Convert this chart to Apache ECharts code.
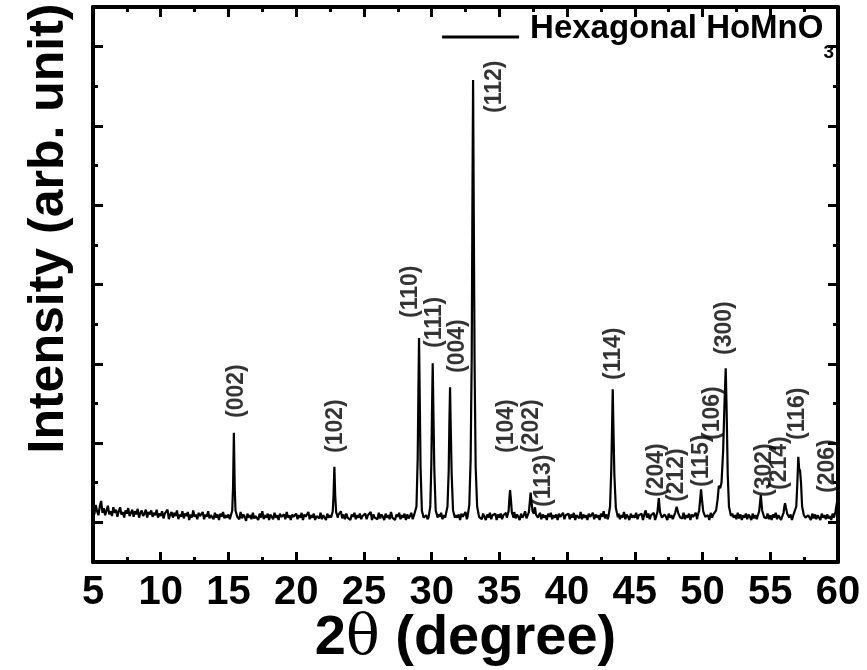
<!DOCTYPE html>
<html>
<head>
<meta charset="utf-8">
<title>HoMnO3 XRD</title>
<script src="https://cdn.jsdelivr.net/npm/echarts@6/dist/echarts.min.js"></script>
<style>
  html, body { margin: 0; padding: 0; background: #fff; }
  #chart { width: 867px; height: 670px; }
</style>
</head>
<body>
<div id="chart"></div>
<script>
// background counts, one value every 0.1 degree
var bgStep = 0.1;
var bg05 = [660, 600, 720, 640, 590, 700, 770, 620, 680, 590,
            650, 710, 600, 640, 580, 690, 620, 660, 570, 640,
            690, 600, 630, 560, 650, 610, 680, 580, 620, 660,
            570, 640, 600, 670, 560, 620, 650, 580, 610, 660,
            560, 630, 600, 650, 570, 620, 590, 660, 560, 610];
var bg10 = [580, 640, 550, 610, 590, 660, 540, 600, 630, 560,
            620, 580, 650, 540, 600, 570, 640, 550, 610, 580,
            630, 530, 600, 560, 650, 570, 600, 540, 620, 580,
            560, 630, 540, 600, 570, 640, 550, 590, 610, 540,
            620, 560, 600, 530, 610, 570, 630, 550, 590, 560];
var bg15 = [600, 540, 610, 570, 530, 620, 560, 590, 540, 630,
            550, 600, 570, 520, 610, 560, 590, 540, 620, 550,
            580, 600, 530, 610, 560, 640, 540, 590, 560, 610,
            530, 600, 570, 540, 620, 560, 590, 530, 610, 570,
            550, 600, 540, 630, 560, 590, 530, 600, 570, 550];
var bg20 = [610, 540, 590, 560, 620, 530, 600, 570, 550, 630,
            540, 590, 560, 610, 530, 580, 600, 550, 620, 540,
            590, 570, 530, 610, 560, 590, 540, 620, 560, 600,
            530, 590, 570, 640, 550, 600, 540, 610, 560, 580,
            530, 600, 570, 620, 540, 590, 560, 610, 540, 580];
var bg25 = [560, 610, 540, 590, 570, 630, 530, 600, 560, 580,
            540, 620, 550, 600, 570, 530, 610, 560, 590, 540,
            630, 560, 580, 530, 600, 570, 620, 540, 590, 560,
            610, 530, 600, 550, 580, 620, 540, 590, 560, 610,
            540, 600, 570, 530, 620, 560, 590, 540, 610, 560];
var bg30 = [590, 540, 610, 560, 530, 600, 570, 620, 540, 590,
            560, 610, 530, 600, 570, 550, 620, 540, 590, 560,
            600, 530, 610, 570, 550, 630, 540, 590, 560, 610,
            540, 580, 600, 530, 620, 560, 590, 540, 610, 570,
            530, 600, 560, 620, 540, 590, 570, 610, 530, 600];
var bg35 = [560, 610, 540, 590, 570, 620, 530, 600, 560, 580,
            540, 630, 550, 600, 570, 530, 610, 560, 590, 640,
            550, 600, 540, 620, 560, 590, 530, 610, 570, 550,
            620, 540, 600, 560, 590, 530, 610, 570, 620, 540,
            590, 560, 600, 530, 610, 570, 550, 620, 540, 590];
var bg40 = [570, 610, 540, 600, 560, 620, 530, 590, 570, 550,
            630, 540, 600, 560, 590, 530, 610, 570, 550, 620,
            540, 600, 560, 590, 530, 610, 570, 640, 550, 600,
            540, 590, 560, 620, 530, 600, 570, 550, 610, 540,
            590, 560, 630, 540, 600, 570, 530, 610, 560, 590];
var bg45 = [560, 620, 540, 590, 570, 610, 530, 600, 650, 560,
            610, 540, 590, 570, 620, 530, 600, 560, 580, 540,
            630, 550, 600, 570, 530, 610, 560, 590, 540, 620,
            560, 600, 530, 610, 570, 550, 620, 540, 590, 560,
            610, 530, 600, 570, 550, 620, 540, 590, 560, 610];
var bg50 = [580, 540, 610, 560, 590, 530, 620, 560, 600, 540,
            590, 570, 530, 610, 560, 600, 540, 620, 550, 590,
            570, 530, 610, 560, 590, 540, 620, 550, 600, 530,
            590, 560, 610, 540, 600, 570, 530, 610, 550, 590,
            540, 620, 560, 590, 530, 600, 570, 550, 610, 540];
var bg55 = [590, 530, 600, 560, 620, 540, 590, 560, 530, 610,
            550, 590, 540, 620, 560, 600, 530, 590, 570, 540,
            610, 550, 590, 530, 600, 560, 620, 540, 590, 560,
            530, 610, 550, 600, 540, 590, 570, 530, 610, 560,
            590, 540, 600, 550, 580, 530, 610, 560, 590, 540,
            580];

// reflections: [2theta, counts]
var peak002 = [[15.15, 560], [15.28, 650], [15.34, 950], [15.40, 1630], [15.46, 950], [15.52, 650], [15.65, 570]];
var peak102 = [[22.58, 560], [22.70, 640], [22.76, 850], [22.82, 1200], [22.88, 840], [22.95, 630], [23.08, 560]];
var peak110 = [[28.75, 570], [28.88, 700], [28.97, 1300], [29.02, 2100], [29.07, 2825], [29.12, 2100], [29.18, 1200], [29.28, 650], [29.40, 560]];
var peak111 = [[29.78, 570], [29.90, 700], [29.98, 1250], [30.03, 1950], [30.08, 2506], [30.13, 1900], [30.20, 1150], [30.30, 650], [30.45, 560]];
var peak004 = [[31.05, 570], [31.17, 700], [31.26, 1150], [31.31, 1750], [31.36, 2203], [31.41, 1700], [31.48, 1100], [31.58, 650], [31.72, 560]];
var peak112 = [[32.65, 570], [32.78, 720], [32.88, 1300], [32.96, 2600], [33.01, 4500], [33.06, 6078], [33.11, 4400], [33.17, 2500], [33.25, 1200], [33.36, 700], [33.50, 570]];
var peak104 = [[35.55, 560], [35.68, 640], [35.74, 800], [35.79, 908], [35.85, 790], [35.92, 630], [36.05, 560]];
var peak202 = [[37.05, 560], [37.18, 630], [37.26, 780], [37.31, 874], [37.37, 760], [37.45, 640], [37.55, 610], [37.63, 690], [37.70, 600], [37.85, 560]];
var peak114 = [[43.05, 570], [43.17, 700], [43.26, 1150], [43.32, 1700], [43.37, 2178], [43.42, 1700], [43.49, 1100], [43.60, 680], [43.75, 565]];
var peak204 = [[46.55, 560], [46.67, 630], [46.77, 807], [46.86, 630], [47.00, 560]];
var peak212 = [[47.85, 560], [47.98, 620], [48.09, 698], [48.20, 620], [48.35, 560]];
var peak115 = [[49.62, 570], [49.75, 650], [49.84, 820], [49.89, 917], [49.95, 800], [50.05, 640], [50.20, 570]];
var peak300 = [[50.85, 580], [51.00, 650], [51.12, 800], [51.20, 960], [51.30, 930], [51.40, 1000], [51.52, 1400], [51.62, 2000], [51.71, 2443], [51.78, 1900], [51.86, 1100], [51.95, 700], [52.10, 580]];
var peak302 = [[54.05, 560], [54.18, 640], [54.30, 845], [54.40, 650], [54.55, 565]];
var peak214 = [[55.85, 560], [55.98, 620], [56.04, 700], [56.09, 740], [56.15, 690], [56.25, 610], [56.40, 560]];
var peak116 = [[56.80, 570], [56.92, 700], [57.00, 1000], [57.07, 1328], [57.13, 1180], [57.20, 1150], [57.27, 1000], [57.35, 700], [57.48, 590], [57.60, 560]];
var peak206 = [[59.70, 560], [59.82, 640], [59.95, 782], [60.00, 760]];

// Miller index labels and where they sit
var hklLabels = ['(002)', '(102)', '(110)', '(111)', '(004)', '(112)', '(104)', '(202)', '(113)', '(114)', '(204)', '(212)', '(115)', '(106)', '(300)', '(302)', '(214)', '(116)', '(206)'];
var hklTheta = [15.63, 22.94, 28.48, 30.25, 31.95, 34.68, 35.56, 37.41, 38.30, 43.46, 46.63, 48.11, 49.96, 50.78, 51.66, 54.61, 55.72, 57.04, 59.26];
var hklHeight = [1816, 1375, 3078, 2699, 2384, 5663, 1375, 1375, 694, 2296, 820, 757, 946, 1539, 2611, 820, 908, 1539, 870];

var xTicks = { min: 5, max: 60, step: 5 };
var yLongTicks = [500, 1500, 2500, 3500, 4500, 5500, 6500];
var yShortTicks = [1000, 2000, 3000, 4000, 5000, 6000];

var bgSegments = [[5, bg05], [10, bg10], [15, bg15], [20, bg20], [25, bg25], [30, bg30], [35, bg35], [40, bg40], [45, bg45], [50, bg50], [55, bg55]];
var peaks = [peak002, peak102, peak110, peak111, peak004, peak112, peak104, peak202, peak114, peak204, peak212, peak115, peak300, peak302, peak214, peak116, peak206];

var windows = peaks.map(function (p) { return [p[0][0], p[p.length - 1][0]]; });
var scan = [];
bgSegments.forEach(function (seg) {
  seg[1].forEach(function (v, i) {
    var t = +(seg[0] + i * bgStep).toFixed(2);
    var inPeak = windows.some(function (w) { return t >= w[0] && t <= w[1]; });
    if (!inPeak) scan.push([t, v]);
  });
});
peaks.forEach(function (p) { p.forEach(function (pt) { scan.push(pt); }); });
scan.sort(function (a, b) { return a[0] - b[0]; });

var bold = 'bold';
var sans = '"Liberation Sans", Arial, Helvetica, sans-serif';
var black = '#000';

function xAxisCfg(pos, withLabels) {
  return {
    type: 'value',
    position: pos,
    min: xTicks.min,
    max: xTicks.max,
    interval: xTicks.step,
    axisLine: { show: true, onZero: false, lineStyle: { color: black, width: 4 } },
    axisTick: { show: true, inside: true, length: 10, lineStyle: { color: black, width: 3 } },
    minorTick: { show: true, splitNumber: 2, length: 5, lineStyle: { color: black, width: 3 } },
    splitLine: { show: false },
    minorSplitLine: { show: false },
    axisLabel: {
      show: withLabels,
      color: black,
      fontSize: 40,
      fontWeight: bold,
      fontFamily: sans,
      margin: 11
    },
    name: withLabels ? '{n|2}{t|\u03b8}{n| (degree)}' : '',
    nameLocation: 'middle',
    nameGap: 47,
    nameMoveOverlap: false,
    nameTextStyle: {
      rich: {
        n: { fontSize: 56, fontWeight: bold, fontFamily: sans, color: black, lineHeight: 60 },
        t: { fontSize: 56, fontFamily: '"DejaVu Serif", serif', color: black, lineHeight: 60 }
      }
    }
  };
}

function yAxisCfg(pos, ticks, len, withLine, withName) {
  return {
    type: 'value',
    position: pos,
    min: 0,
    max: 7000,
    axisLine: { show: withLine, onZero: false, lineStyle: { color: black, width: 4 } },
    axisTick: { show: true, inside: true, length: len, customValues: ticks, lineStyle: { color: black, width: 3 } },
    axisLabel: { show: false },
    splitLine: { show: false },
    name: withName ? 'Intensity (arb. unit)' : '',
    nameLocation: 'middle',
    nameGap: 19,
    nameMoveOverlap: false,
    nameRotate: 90,
    nameTextStyle: { fontSize: 50, fontWeight: bold, fontFamily: sans, color: black, padding: [0, 0, 0, 112] }
  };
}

var chart = echarts.init(document.getElementById('chart'));
chart.setOption({
  animation: false,
  backgroundColor: '#fff',
  grid: { left: 93, right: 29, top: 7, bottom: 108, outerBoundsMode: 'none', containLabel: false },
  legend: {
    data: ['Hexagonal HoMnO3'],
    right: 28,
    top: 7,
    icon: 'rect',
    itemWidth: 77,
    itemHeight: 3,
    formatter: function () { return '{a|Hexagonal HoMnO}{s|3}'; },
    textStyle: {
      rich: {
        a: { fontSize: 33, fontWeight: bold, fontFamily: sans, color: black, lineHeight: 34, verticalAlign: 'top', padding: [0, 0, 0, 6] },
        s: { fontSize: 19, fontWeight: bold, fontFamily: sans, color: black, lineHeight: 50, verticalAlign: 'bottom' }
      }
    }
  },
  xAxis: [xAxisCfg('bottom', true), xAxisCfg('top', false)],
  yAxis: [
    yAxisCfg('left', yLongTicks, 10, true, true),
    yAxisCfg('left', yShortTicks, 5, false, false),
    yAxisCfg('right', yLongTicks, 10, true, false),
    yAxisCfg('right', yShortTicks, 5, false, false)
  ],
  series: [
    {
      name: 'Hexagonal HoMnO3',
      type: 'line',
      xAxisIndex: 0,
      yAxisIndex: 0,
      data: scan,
      symbol: 'none',
      lineStyle: { color: black, width: 2.2 },
      itemStyle: { color: black },
      z: 3
    },
    {
      name: 'hkl',
      type: 'scatter',
      xAxisIndex: 0,
      yAxisIndex: 0,
      silent: true,
      symbolSize: 1,
      itemStyle: { color: 'rgba(0,0,0,0)' },
      data: hklTheta.map(function (t, i) { return { name: hklLabels[i], value: [t, hklHeight[i]] }; }),
      label: {
        show: true,
        position: 'inside',
        rotate: 90,
        align: 'left',
        verticalAlign: 'middle',
        formatter: function (p) { return p.name; },
        fontSize: 23,
        fontWeight: bold,
        fontFamily: sans,
        color: black
      },
      z: 4
    }
  ]
});
</script>
</body>
</html>
